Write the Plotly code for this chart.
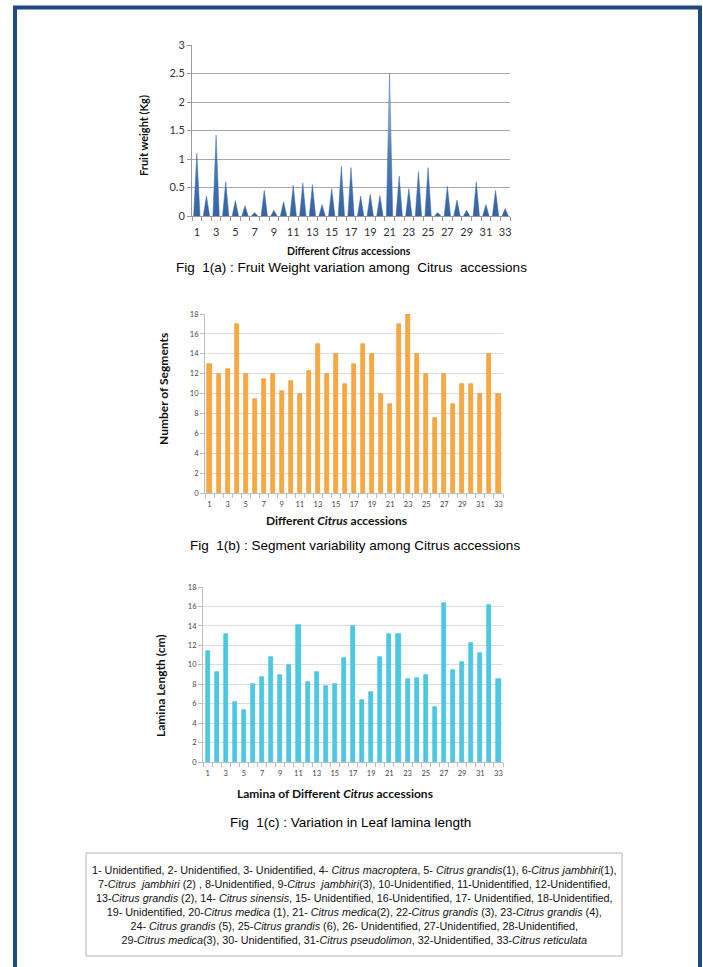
import plotly.graph_objects as go

W, H = 703, 967

accessions = list(range(1, 34))
fruit_weight = [1.1, 0.35, 1.42, 0.6, 0.27, 0.18, 0.06, 0.45, 0.1, 0.25,
                0.54, 0.58, 0.55, 0.2, 0.48, 0.87, 0.85, 0.35, 0.38, 0.36,
                2.5, 0.7, 0.48, 0.78, 0.85, 0.06, 0.52, 0.28, 0.1, 0.6,
                0.2, 0.45, 0.13]
segments = [13, 12, 12.5, 17, 12, 9.5, 11.5, 12, 10.3, 11.3,
            10, 12.3, 15, 12, 14, 11, 13, 15, 14, 10,
            9, 17, 18, 14, 12, 7.5, 12, 9, 11, 11,
            10, 14, 10]
lamina = [11.4, 9.3, 13.2, 6.2, 5.3, 8.0, 8.7, 10.8, 9.0, 10.0,
          14.1, 8.2, 9.3, 7.8, 8.0, 10.7, 14.0, 6.4, 7.2, 10.8,
          13.2, 13.2, 8.5, 8.6, 8.9, 5.7, 16.4, 9.5, 10.3, 12.2,
          11.2, 16.2, 8.5]
odd_ticks = [a for a in accessions if a % 2 == 1]

legend_lines = [
    "1- Unidentified, 2- Unidentified, 3- Unidentified, 4- <i>Citrus macroptera</i>, 5- <i>Citrus grandis</i>(1), 6-<i>Citrus jambhiri</i>(1),",
    "7-<i>Citrus\u00a0 jambhiri</i> (2) , 8-Unidentified, 9-<i>Citrus\u00a0 jambhiri</i>(3), 10-Unidentified, 11-Unidentified, 12-Unidentified,",
    "13-<i>Citrus grandis</i> (2), 14- <i>Citrus sinensis</i>, 15- Unidentified, 16-Unidentified, 17- Unidentified, 18-Unidentified,",
    "19- Unidentified, 20-<i>Citrus medica</i> (1), 21- <i>Citrus medica</i>(2), 22-<i>Citrus grandis</i> (3), 23-<i>Citrus grandis</i> (4),",
    "24- <i>Citrus grandis</i> (5), 25-<i>Citrus grandis</i> (6), 26- Unidentified, 27-Unidentified, 28-Unidentified,",
    "29-<i>Citrus medica</i>(3), 30- Unidentified, 31-<i>Citrus pseudolimon</i>, 32-Unidentified, 33-<i>Citrus reticulata</i>",
]


def px_x(p):
    return p / W


def px_y(p):
    return 1 - p / H


fig = go.Figure()

# Chart (a): spike area chart
half = 0.33
ax, ay = [], []
for a, v in zip(accessions, fruit_weight):
    ax += [a - half, a, a + half, None]
    ay += [0, v, 0, None]
fig.add_trace(go.Scatter(
    x=ax, y=ay, mode="lines", fill="toself",
    line=dict(color="#3c6aa8", width=0.5),
    fillgradient=dict(type="vertical", start=0, stop=2.6,
                      colorscale=[[0, "#3763a3"], [0.4, "#4d7cba"], [1, "#d3def0"]]),
    xaxis="x", yaxis="y", hoverinfo="skip", showlegend=False))

# Chart (b)
fig.add_trace(go.Bar(
    x=accessions, y=segments, width=0.45,
    marker=dict(color="#f7a93e", line=dict(color="#e8922a", width=0.6)),
    xaxis="x2", yaxis="y2", showlegend=False))

# Chart (c)
fig.add_trace(go.Bar(
    x=accessions, y=lamina, width=0.45,
    marker=dict(color="#4cc9e2", line=dict(color="#38b8d4", width=0.6)),
    xaxis="x3", yaxis="y3", showlegend=False))

font_tick = "Lato, 'Open Sans', sans-serif"
bounds = [a - 0.5 for a in accessions] + [accessions[-1] + 0.5]


def xaxis(dom, anchor, size, color, lcolor, standoff):
    return dict(domain=dom, anchor=anchor, range=[0.5, 33.5], automargin=False,
                tickmode="array", tickvals=odd_ticks,
                ticktext=[str(t) for t in odd_ticks],
                ticks="", showgrid=False, zeroline=False, ticklabelstandoff=standoff,
                showline=True, linecolor=lcolor, linewidth=1,
                tickfont=dict(family=font_tick, size=size, color=color),
                minor=dict(tickmode="array", tickvals=bounds, ticks="outside",
                           ticklen=4, tickcolor=lcolor, showgrid=False))


def yaxis(dom, anchor, rng, dtick, size, color, gcolor, lcolor):
    return dict(domain=dom, anchor=anchor, range=rng, dtick=dtick, automargin=False,
                ticks="outside", ticklen=4, tickcolor=lcolor,
                showgrid=True, gridcolor=gcolor, gridwidth=1,
                zeroline=False, showline=True, linecolor=lcolor, linewidth=1,
                tickfont=dict(family=font_tick, size=size, color=color))


fig.update_layout(
    width=W, height=H, margin=dict(l=0, r=0, t=0, b=0, pad=0, autoexpand=False),
    paper_bgcolor="white", plot_bgcolor="white", bargap=0, showlegend=False,
    xaxis=xaxis([px_x(192), px_x(510)], "y", 11, "#333333", "#9a9a9a", 6),
    yaxis=yaxis([px_y(216), px_y(45)], "x", [0, 3], 0.5, 11, "#333333", "#a8a8a8", "#9a9a9a"),
    xaxis2=xaxis([px_x(205), px_x(503)], "y2", 7.5, "#444444", "#bdbdbd", 4),
    yaxis2=yaxis([px_y(493), px_y(314)], "x2", [0, 18], 2, 7.5, "#444444", "#dedede", "#bdbdbd"),
    xaxis3=xaxis([px_x(203), px_x(503)], "y3", 7.5, "#444444", "#bdbdbd", 4),
    yaxis3=yaxis([px_y(762), px_y(587)], "x3", [0, 18], 2, 7.5, "#444444", "#dedede", "#bdbdbd"),
)

title_font = "Lato, 'Open Sans', sans-serif"
cap_font = "'Liberation Sans', Arial, sans-serif"


def ann(text, x, y, size, fam, angle=0, color="#111111"):
    fig.add_annotation(text=text, x=px_x(x), y=px_y(y), xref="paper", yref="paper",
                       showarrow=False, textangle=angle, xanchor="center", yanchor="middle",
                       font=dict(family=fam, size=size, color=color))


# axis titles
ann("<b>Fruit weight (Kg)</b>", 144, 136, 11, title_font, -90)
ann("<b>Different <i>Citrus</i> accessions</b>", 349, 251, 10.5, title_font)
ann("<b>Number of Segments</b>", 163, 389, 12, title_font, -90)
ann("<b>Different <i>Citrus</i> accessions</b>", 336, 520, 12, title_font)
ann("<b>Lamina Length (cm)</b>", 160, 686, 12, title_font, -90)
ann("<b>Lamina of Different <i>Citrus</i> accessions</b>", 335, 793, 12, title_font)

# captions
ann("Fig\u00a0 1(a) : Fruit Weight variation among\u00a0 Citrus\u00a0 accessions", 351, 268, 13.5, cap_font, color="#000000")
ann("Fig\u00a0 1(b) : Segment variability among Citrus accessions", 355, 545, 13.5, cap_font, color="#000000")
ann("Fig\u00a0 1(c) : Variation in Leaf lamina length", 350, 822, 13.5, cap_font, color="#000000")

# legend box
fig.add_shape(type="rect", xref="paper", yref="paper",
              x0=px_x(86), x1=px_x(622), y0=px_y(956), y1=px_y(853),
              line=dict(color="#b5b5b5", width=1), fillcolor="rgba(0,0,0,0)")
ann("<br>".join(legend_lines), 354, 904.5, 10.8, cap_font, color="#111111")

# page frame
fig.add_shape(type="path", xref="paper", yref="paper",
              path=f"M {px_x(15)},{px_y(967)} L {px_x(15)},{px_y(7.5)} L {px_x(700)},{px_y(7.5)} L {px_x(700)},{px_y(967)}",
              line=dict(color="#1f4a7e", width=4))

fig.write_html(
    "out.html",
    config={"displayModeBar": False},
    post_script=(
        "var s='margin:0;padding:0;overflow:hidden;width:703px;height:967px;';"
        "document.documentElement.style.cssText=s;document.body.style.cssText=s;"
        "var g=document.getElementById('{plot_id}');"
        "if(g&&g.parentElement){g.parentElement.style.cssText=s;}"
    ),
)
